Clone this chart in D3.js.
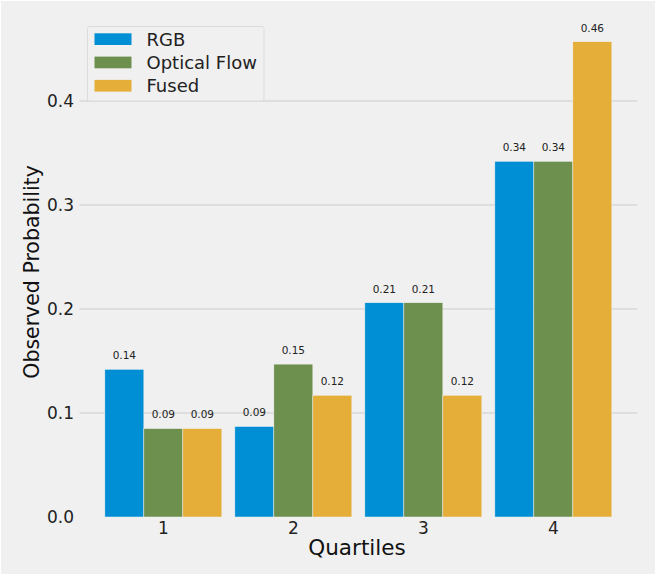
<!DOCTYPE html>
<html><head><meta charset="utf-8">
<script src="https://cdn.jsdelivr.net/npm/d3@7"></script>
<style>body{margin:0;background:#fff;}svg{display:block;font-family:"DejaVu Sans",sans-serif;}</style>
</head><body>
<svg id="c" width="658" height="577"></svg>
<script>
const quartiles = [1, 2, 3, 4];
const seriesNames = ["RGB", "Optical Flow", "Fused"];
const rgbValues = [0.142, 0.087, 0.206, 0.342];
const flowValues = [0.085, 0.147, 0.206, 0.342];
const fusedValues = [0.085, 0.117, 0.117, 0.457];
const yTicks = [0.0, 0.1, 0.2, 0.3, 0.4];
const colors = ["#008fd5", "#6d904f", "#e5ae38"];
const seriesValues = [rgbValues, flowValues, fusedValues];

const svg = d3.select("#c");
svg.append("rect").attr("x", 1).attr("y", 1).attr("width", 654).attr("height", 573).attr("fill", "#f0f0f0");

const barW = 0.3;
const x = d3.scaleLinear().domain([0.355, 4.645]).range([79.5, 637.2]);
const y = d3.scaleLinear().domain([0, 0.4]).range([517, 101]);

// grid
svg.append("g").selectAll("line").data(yTicks.filter(d => d > 0)).join("line")
  .attr("x1", x(0.355)).attr("x2", x(4.645))
  .attr("y1", d => y(d)).attr("y2", d => y(d))
  .attr("stroke", "#cbcbcb").attr("stroke-width", 1);

// y tick labels
svg.append("g").selectAll("text").data(yTicks).join("text")
  .attr("x", 74).attr("y", d => y(d)).attr("dy", "0.36em")
  .attr("text-anchor", "end").attr("font-size", 17).attr("fill", "#222")
  .text(d => d.toFixed(1));

// x tick labels
svg.append("g").selectAll("text").data(quartiles).join("text")
  .attr("x", d => x(d)).attr("y", 534).attr("text-anchor", "middle")
  .attr("font-size", 17).attr("fill", "#222").text(d => d);

// bars
seriesValues.forEach((vals, si) => {
  const off = (si - 1) * barW;
  const g = svg.append("g");
  g.selectAll("rect").data(vals).join("rect")
    .attr("x", (d, i) => x(quartiles[i] + off - barW / 2))
    .attr("width", x(barW) - x(0))
    .attr("y", d => y(d)).attr("height", d => y(0) - y(d))
    .attr("fill", colors[si]).attr("stroke", "#f0f0f0").attr("stroke-width", 0.5);
  g.selectAll("text").data(vals).join("text")
    .attr("x", (d, i) => x(quartiles[i] + off))
    .attr("y", d => y(d) - 14).attr("dy", "0.36em")
    .attr("text-anchor", "middle").attr("font-size", 10.5).attr("fill", "#222")
    .text(d => d.toFixed(2));
});

// axis labels
svg.append("text").attr("x", 357).attr("y", 555).attr("text-anchor", "middle")
  .attr("font-size", 21.5).attr("fill", "#111").text("Quartiles");
svg.append("text").attr("transform", "translate(39,272) rotate(-90)")
  .attr("text-anchor", "middle").attr("font-size", 20.5).attr("fill", "#111")
  .text("Observed Probability");

// legend
const lg = svg.append("g");
lg.append("rect").attr("x", 87.5).attr("y", 26.5).attr("width", 176.5).attr("height", 74.5)
  .attr("rx", 2).attr("fill", "#f0f0f0").attr("fill-opacity", 0.85).attr("stroke", "#dcdcdc");
seriesNames.forEach((n, i) => {
  lg.append("rect").attr("x", 94.5).attr("y", 33.3 + i * 23.3).attr("width", 37).attr("height", 11.7)
    .attr("fill", colors[i]);
  lg.append("text").attr("x", 146.5).attr("y", 45.5 + i * 23.3).attr("font-size", 18)
    .attr("fill", "#222").text(n);
});
</script>
</body></html>
